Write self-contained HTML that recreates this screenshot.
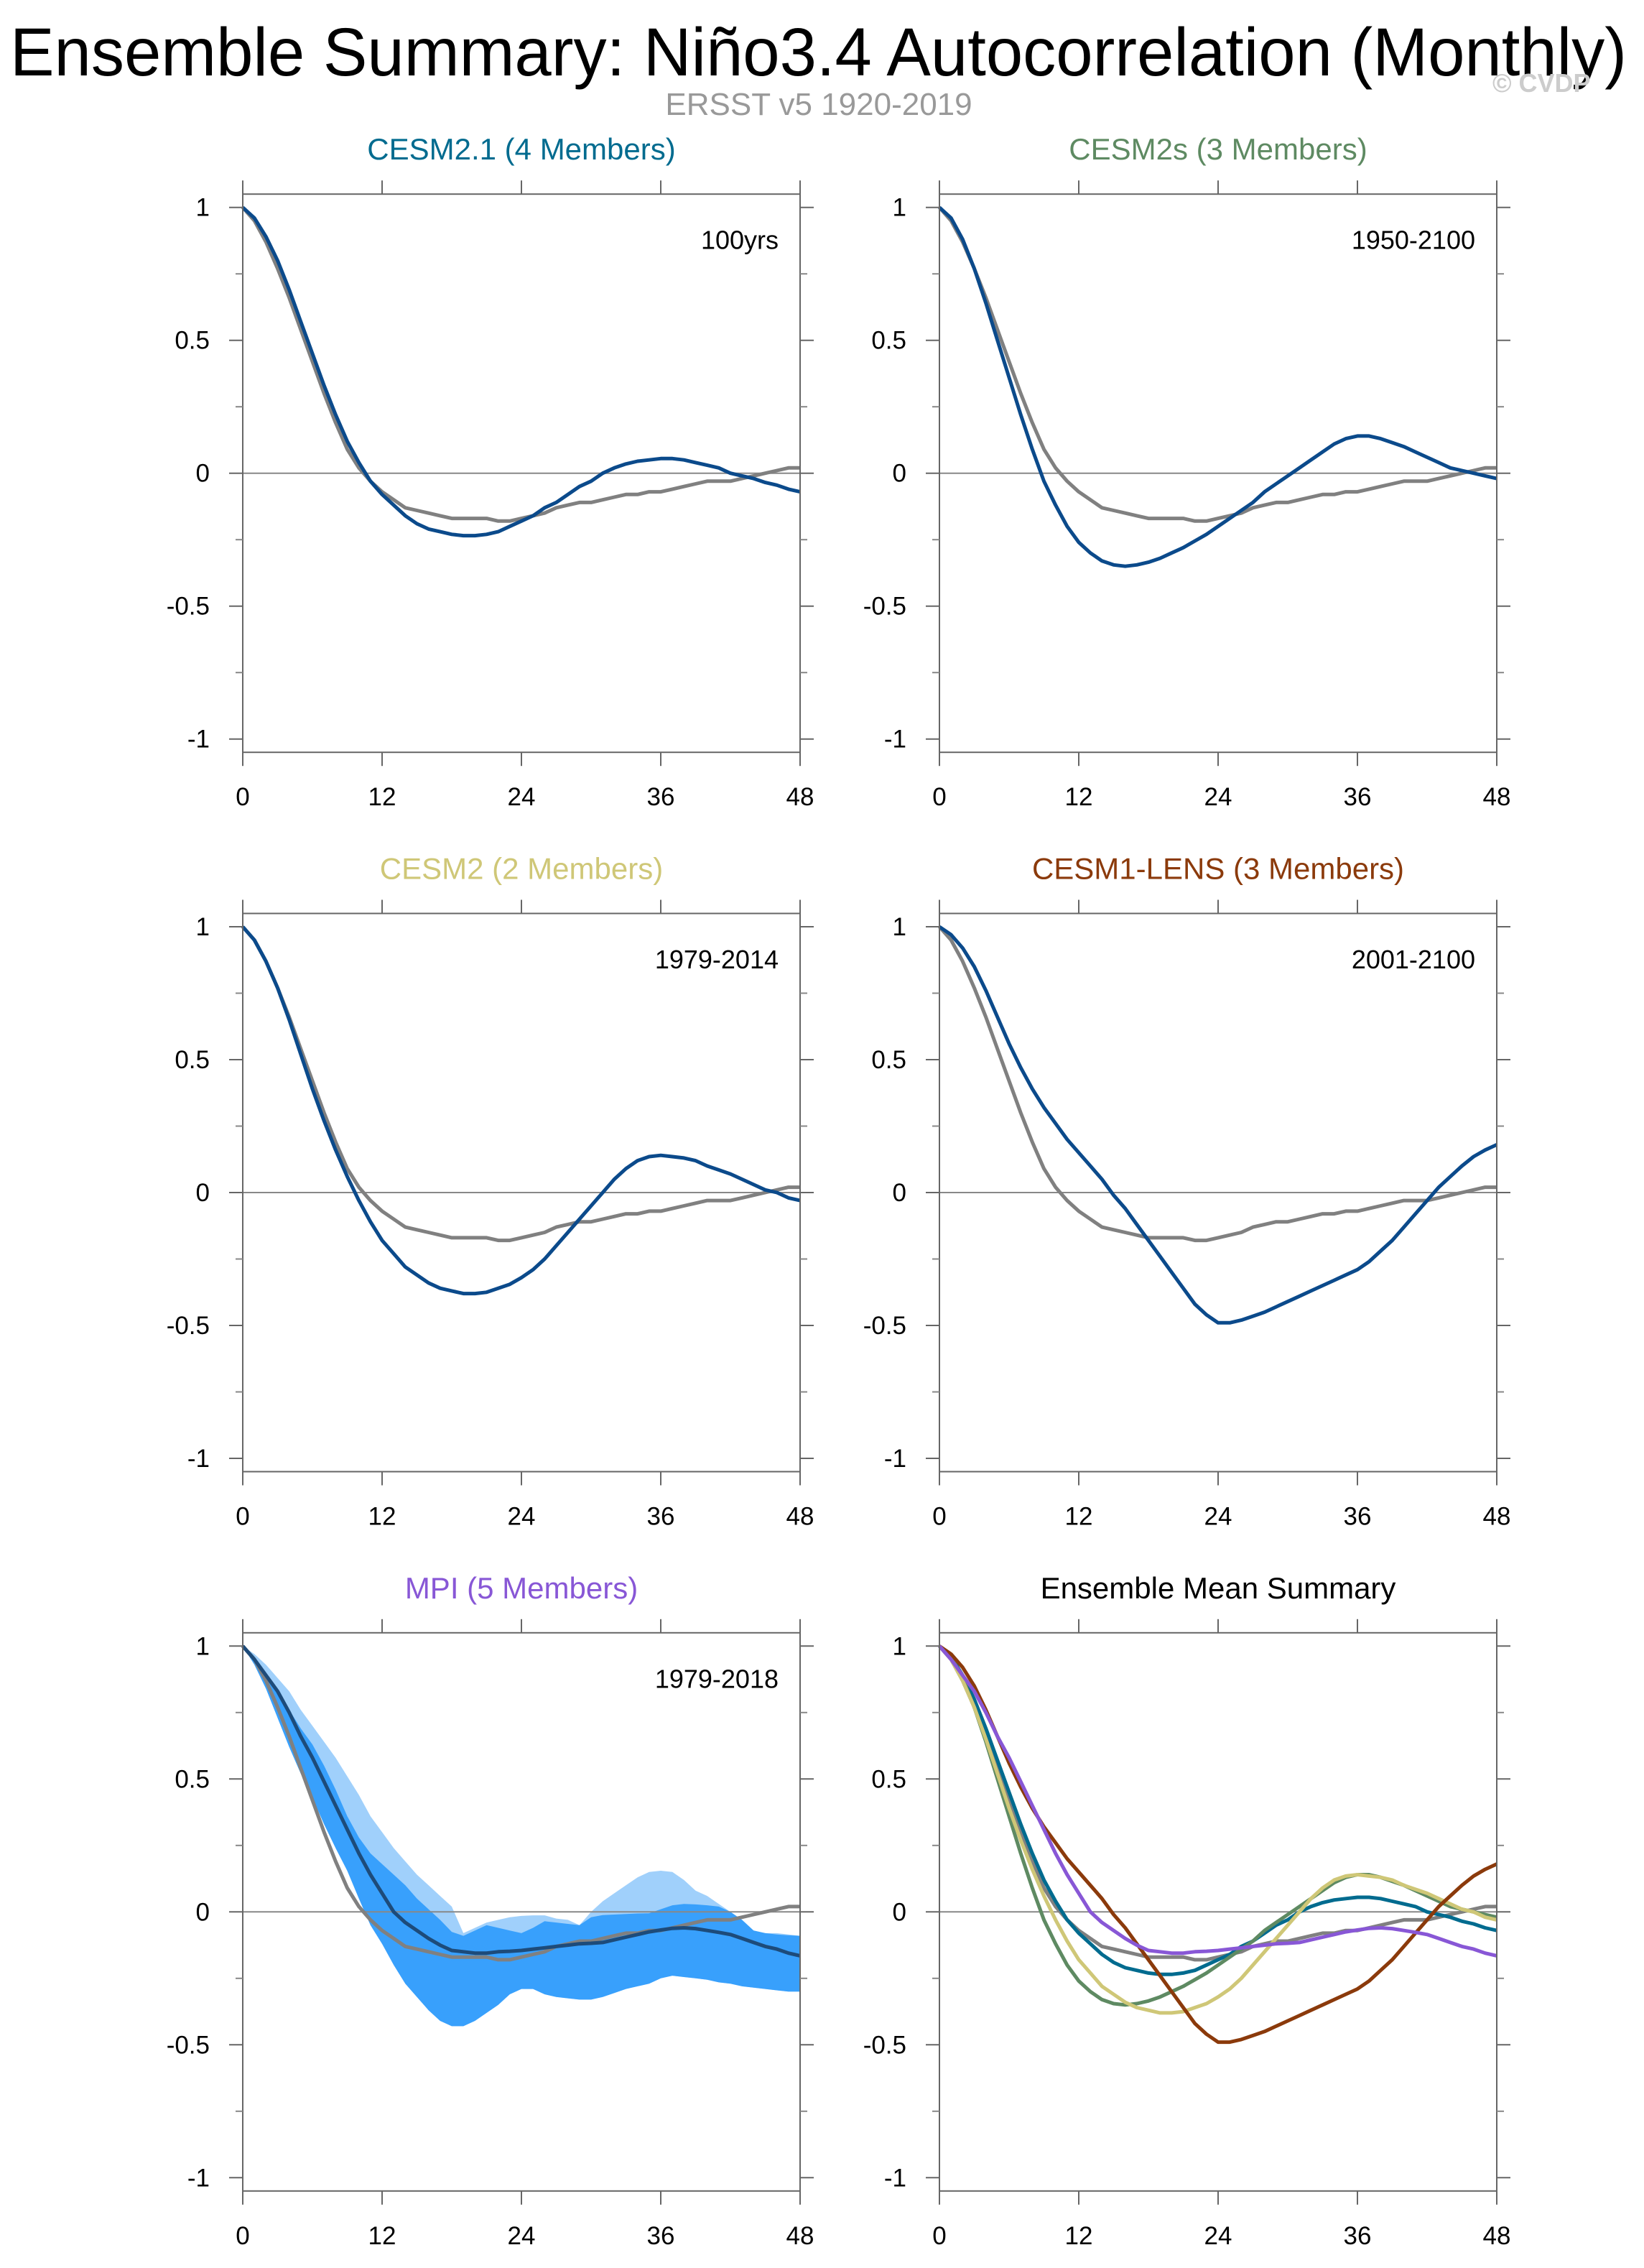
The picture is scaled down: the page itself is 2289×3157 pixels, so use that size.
<!DOCTYPE html>
<html><head><meta charset="utf-8"><title>Ensemble Summary: Niño3.4 Autocorrelation</title>
<style>html,body{margin:0;padding:0;background:#fff}svg{display:block}text{font-family:"Liberation Sans",Arial,sans-serif}</style>
</head><body>
<svg id="chart" xmlns="http://www.w3.org/2000/svg" width="2289" height="3157" viewBox="0 0 2289 3157">
<text x="14" y="105" font-size="95" textLength="2251" lengthAdjust="spacingAndGlyphs" fill="#000">Ensemble Summary: Niño3.4 Autocorrelation (Monthly)</text>
<text x="1140" y="160" font-size="44" text-anchor="middle" fill="#999">ERSST v5 1920-2019</text>
<text x="2078" y="128" font-size="36" font-weight="bold" fill="#ccc">© CVDP</text>
</svg>
<script>
const lags = [0,1,2,3,4,5,6,7,8,9,10,11,12,13,14,15,16,17,18,19,20,21,22,23,24,25,26,27,28,29,30,31,32,33,34,35,36,37,38,39,40,41,42,43,44,45,46,47,48];
const xTicks = [0,12,24,36,48];
const yTicks = [-1,-0.5,0,0.5,1];
const yTickLabels = ["-1","-0.5","0","0.5","1"];
const yMinor = [-0.75,-0.25,0.25,0.75];
const obs = [1,0.95,0.87,0.77,0.66,0.54,0.42,0.30,0.19,0.09,0.02,-0.03,-0.07,-0.10,-0.13,-0.14,-0.15,-0.16,-0.17,-0.17,-0.17,-0.17,-0.18,-0.18,-0.17,-0.16,-0.15,-0.13,-0.12,-0.11,-0.11,-0.10,-0.09,-0.08,-0.08,-0.07,-0.07,-0.06,-0.05,-0.04,-0.03,-0.03,-0.03,-0.02,-0.01,0.0,0.01,0.02,0.02];
const cesm21 = [1,0.96,0.89,0.80,0.69,0.57,0.45,0.33,0.22,0.12,0.04,-0.03,-0.08,-0.12,-0.16,-0.19,-0.21,-0.22,-0.23,-0.235,-0.235,-0.23,-0.22,-0.20,-0.18,-0.16,-0.13,-0.11,-0.08,-0.05,-0.03,0.0,0.02,0.035,0.045,0.05,0.055,0.055,0.05,0.04,0.03,0.02,0.0,-0.01,-0.02,-0.035,-0.045,-0.06,-0.07];
const cesm2s = [1,0.96,0.88,0.77,0.64,0.50,0.36,0.22,0.09,-0.03,-0.12,-0.20,-0.26,-0.30,-0.33,-0.345,-0.35,-0.345,-0.335,-0.32,-0.30,-0.28,-0.255,-0.23,-0.20,-0.17,-0.14,-0.11,-0.07,-0.04,-0.01,0.02,0.05,0.08,0.11,0.13,0.14,0.14,0.13,0.115,0.10,0.08,0.06,0.04,0.02,0.01,0.0,-0.01,-0.02];
const cesm2 = [1,0.95,0.87,0.77,0.65,0.52,0.39,0.27,0.16,0.06,-0.03,-0.11,-0.18,-0.23,-0.28,-0.31,-0.34,-0.36,-0.37,-0.38,-0.38,-0.375,-0.36,-0.345,-0.32,-0.29,-0.25,-0.20,-0.15,-0.10,-0.05,0.0,0.05,0.09,0.12,0.135,0.14,0.135,0.13,0.12,0.10,0.085,0.07,0.05,0.03,0.01,0.0,-0.02,-0.03];
const cesm1 = [1,0.97,0.92,0.85,0.76,0.66,0.56,0.47,0.39,0.32,0.26,0.20,0.15,0.10,0.05,-0.01,-0.06,-0.12,-0.18,-0.24,-0.30,-0.36,-0.42,-0.46,-0.49,-0.49,-0.48,-0.465,-0.45,-0.43,-0.41,-0.39,-0.37,-0.35,-0.33,-0.31,-0.29,-0.26,-0.22,-0.18,-0.13,-0.08,-0.03,0.02,0.06,0.10,0.135,0.16,0.18];
const mpiMean = [1,0.95,0.89,0.83,0.75,0.66,0.58,0.49,0.40,0.31,0.22,0.14,0.07,0.0,-0.04,-0.07,-0.10,-0.125,-0.145,-0.15,-0.155,-0.155,-0.15,-0.148,-0.145,-0.14,-0.135,-0.13,-0.125,-0.12,-0.118,-0.115,-0.105,-0.095,-0.085,-0.075,-0.068,-0.062,-0.06,-0.063,-0.07,-0.077,-0.085,-0.10,-0.115,-0.13,-0.14,-0.155,-0.165];
const mpiRangeHi = [1,0.97,0.93,0.88,0.83,0.76,0.70,0.64,0.58,0.51,0.44,0.36,0.30,0.24,0.19,0.14,0.10,0.06,0.02,-0.08,-0.06,-0.04,-0.03,-0.02,-0.015,-0.013,-0.013,-0.025,-0.03,-0.05,0.0,0.04,0.07,0.10,0.13,0.15,0.155,0.15,0.12,0.08,0.06,0.03,0.0,-0.04,-0.07,-0.08,-0.08,-0.085,-0.09];
const mpiSpreadHi = [1,0.95,0.90,0.83,0.76,0.69,0.63,0.55,0.46,0.36,0.28,0.22,0.18,0.14,0.10,0.05,0.01,-0.03,-0.075,-0.09,-0.07,-0.05,-0.06,-0.07,-0.08,-0.06,-0.035,-0.04,-0.045,-0.05,-0.02,-0.012,-0.01,-0.008,-0.006,-0.005,0.01,0.025,0.03,0.028,0.025,0.02,0.0,-0.03,-0.07,-0.08,-0.085,-0.088,-0.09];
const mpiSpreadLo = [1,0.93,0.84,0.73,0.62,0.52,0.43,0.33,0.24,0.155,0.05,-0.05,-0.12,-0.20,-0.27,-0.32,-0.37,-0.41,-0.43,-0.43,-0.41,-0.38,-0.35,-0.31,-0.29,-0.29,-0.31,-0.32,-0.325,-0.33,-0.33,-0.32,-0.305,-0.29,-0.28,-0.27,-0.25,-0.24,-0.245,-0.25,-0.255,-0.265,-0.27,-0.28,-0.285,-0.29,-0.295,-0.30,-0.30];

const NS = "http://www.w3.org/2000/svg";
const svg = document.getElementById('chart');
function mk(tag, attrs, parent){
  const e = document.createElementNS(NS, tag);
  for (const k in attrs) e.setAttribute(k, attrs[k]);
  (parent||svg).appendChild(e);
  return e;
}
const W = 776, UNIT = 370;
function makeAxes(x0, y1){
  return { x: v => x0 + v / 48 * W, y: v => y1 + (1 - v) * UNIT };
}
function pathFrom(ax, vals){
  return vals.map((v,i)=>(i?'L':'M')+ax.x(lags[i]).toFixed(1)+','+ax.y(v).toFixed(1)).join(' ');
}
function drawPanel(p){
  const g = mk('g', {});
  
  
  const ax = makeAxes(p.x0, p.y1);
  const top = ax.y(1.05), bot = ax.y(-1.05), L = ax.x(0), R = ax.x(48);
  const t = mk('text', {x:(L+R)/2, y: top-48, 'font-size':42, 'text-anchor':'middle', fill:p.titleColor}, g);
  t.textContent = p.title;
  
  
  if (p.bands){
    const fwd = lags.map((l,i)=>ax.x(l).toFixed(1)+','+ax.y(mpiRangeHi[i]).toFixed(1));
    const back = lags.map((l,i)=>ax.x(l).toFixed(1)+','+ax.y(mpiSpreadLo[i]).toFixed(1)).reverse();
    const b1 = mk('polygon', {points: fwd.concat(back).join(' '), fill:'#a0d0fb'}, g);
    
    
    const fwd2 = lags.map((l,i)=>ax.x(l).toFixed(1)+','+ax.y(mpiSpreadHi[i]).toFixed(1));
    const b2 = mk('polygon', {points: fwd2.concat(back).join(' '), fill:'#38a0fc'}, g);
    
    
  }
  const z = mk('line', {x1:L, x2:R, y1:ax.y(0), y2:ax.y(0), stroke:'#888', 'stroke-width':2}, g);
  
  
  p.series.forEach(s=>{
    const pl = mk('path', {d: pathFrom(ax, s.vals), fill:'none', stroke:s.color, 'stroke-width':5, 'stroke-linejoin':'round'}, g);
    
    
  });
  const fr = mk('rect', {x:L, y:top, width:R-L, height:bot-top, fill:'none', stroke:'#666', 'stroke-width':2}, g);
  
  
  xTicks.forEach(v=>{
    const X = ax.x(v);
    mk('line', {x1:X, x2:X, y1:bot, y2:bot+19, stroke:'#666', 'stroke-width':2}, g);
    mk('line', {x1:X, x2:X, y1:top, y2:top-19, stroke:'#666', 'stroke-width':2}, g);
    const tl = mk('text', {x:X, y:bot+74, 'font-size':35, 'text-anchor':'middle', fill:'#000'}, g);
    tl.textContent = String(v);
    
    
  });
  yTicks.forEach((v,i)=>{
    const Y = ax.y(v);
    mk('line', {x1:L-19, x2:L, y1:Y, y2:Y, stroke:'#666', 'stroke-width':2}, g);
    mk('line', {x1:R, x2:R+19, y1:Y, y2:Y, stroke:'#666', 'stroke-width':2}, g);
    const tl = mk('text', {x:L-46, y:Y+12, 'font-size':35, 'text-anchor':'end', fill:'#000'}, g);
    tl.textContent = yTickLabels[i];
    
    
  });
  yMinor.forEach(v=>{
    const Y = ax.y(v);
    mk('line', {x1:L-10, x2:L, y1:Y, y2:Y, stroke:'#888', 'stroke-width':2}, g);
    mk('line', {x1:R, x2:R+10, y1:Y, y2:Y, stroke:'#888', 'stroke-width':2}, g);
  });
  if (p.period){
    const pt = mk('text', {x:R-30, y:ax.y(1)+58, 'font-size':36, 'text-anchor':'end', fill:'#000'}, g);
    pt.textContent = p.period;
    
    
  }
}
const NAVY = '#0b4a8b', GRAY = '#808080';
const xL = 338, xR = 1308, r1 = 288.7, r2 = 1290, r3 = 2291.3;
drawPanel({name:'panel-cesm2-1', x0:xL, y1:r1, title:'CESM2.1 (4 Members)', titleColor:'#006b8f', period:'100yrs',
  series:[{name:'obs-line', vals:obs, color:GRAY},{name:'cesm2-1-line', vals:cesm21, color:NAVY}]});
drawPanel({name:'panel-cesm2s', x0:xR, y1:r1, title:'CESM2s (3 Members)', titleColor:'#5e8a62', period:'1950-2100',
  series:[{name:'obs-line', vals:obs, color:GRAY},{name:'cesm2s-line', vals:cesm2s, color:NAVY}]});
drawPanel({name:'panel-cesm2', x0:xL, y1:r2, title:'CESM2 (2 Members)', titleColor:'#cfc777', period:'1979-2014',
  series:[{name:'obs-line', vals:obs, color:GRAY},{name:'cesm2-line', vals:cesm2, color:NAVY}]});
drawPanel({name:'panel-cesm1-lens', x0:xR, y1:r2, title:'CESM1-LENS (3 Members)', titleColor:'#8b3a0b', period:'2001-2100',
  series:[{name:'obs-line', vals:obs, color:GRAY},{name:'cesm1-lens-line', vals:cesm1, color:NAVY}]});
drawPanel({name:'panel-mpi', x0:xL, y1:r3, title:'MPI (5 Members)', titleColor:'#8857d6', period:'1979-2018', bands:true,
  series:[{name:'obs-line', vals:obs, color:GRAY},{name:'mpi-mean-line', vals:mpiMean, color:'#1d4b7a'}]});
drawPanel({name:'panel-ensemble-mean-summary', x0:xR, y1:r3, title:'Ensemble Mean Summary', titleColor:'#000', period:'',
  series:[{name:'obs-line', vals:obs, color:GRAY},
    {name:'cesm2-1-mean-line', vals:cesm21, color:'#006b8f'},
    {name:'cesm2s-mean-line', vals:cesm2s, color:'#5e8a62'},
    {name:'cesm2-mean-line', vals:cesm2, color:'#cfc777'},
    {name:'cesm1-lens-mean-line', vals:cesm1, color:'#8b3a0b'},
    {name:'mpi-mean-line', vals:mpiMean, color:'#8857d6'}]});
</script>
</body></html>
